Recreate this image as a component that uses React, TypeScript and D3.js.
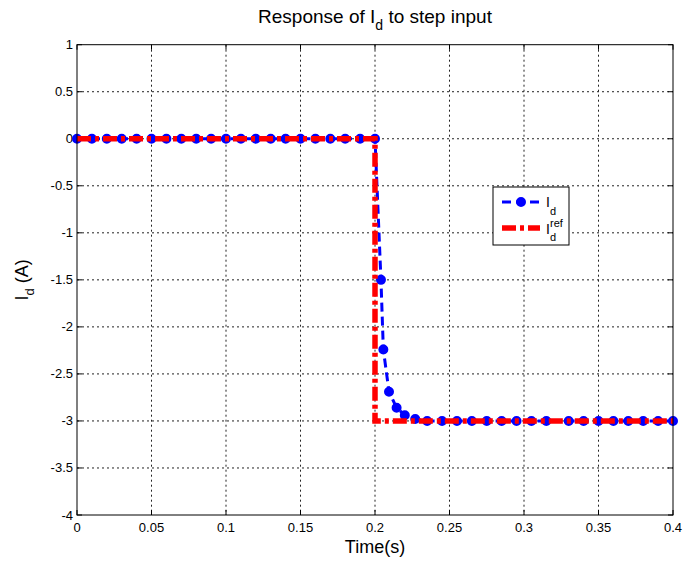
import React from "react";
import * as d3 from "d3";

const W = 698;
const H = 563;

const xTicks = [0, 0.05, 0.1, 0.15, 0.2, 0.25, 0.3, 0.35, 0.4];
const yTicks = [1, 0.5, 0, -0.5, -1, -1.5, -2, -2.5, -3, -3.5, -4];

// measured current I_d (blue, markers)
const idTime = [
  0, 0.01, 0.02, 0.03, 0.04, 0.05, 0.06, 0.07, 0.08, 0.09, 0.1, 0.11, 0.12, 0.13,
  0.14, 0.15, 0.16, 0.17, 0.18, 0.19, 0.2, 0.204, 0.2056, 0.2094, 0.2145, 0.22,
  0.227, 0.235, 0.245, 0.255, 0.265, 0.275, 0.285, 0.295, 0.305, 0.315, 0.33, 0.34,
  0.35, 0.36, 0.37, 0.38, 0.39, 0.4,
];
const idValue = [
  0, 0, 0, 0, 0, 0, 0, 0, 0, 0, 0, 0, 0, 0, 0, 0, 0, 0, 0, 0, 0, -1.5, -2.24, -2.69,
  -2.86, -2.94, -2.98, -3, -3, -3, -3, -3, -3, -3, -3, -3, -3, -3, -3, -3, -3, -3,
  -3, -3,
];

// reference I_d^ref (red, dash-dot)
const refTime = [0, 0.2, 0.2, 0.4];
const refValue = [0, 0, -3, -3];

const FONT = "Arial, 'Liberation Sans', sans-serif";

export default function App() {
  const left = 77, right = 673, top = 44.7, bottom = 515;
  const x = d3.scaleLinear().domain([0, 0.4]).range([left, right]);
  const y = d3.scaleLinear().domain([-4, 1]).range([bottom, top]);

  const line = d3
    .line<[number, number]>()
    .x((d) => x(d[0]))
    .y((d) => y(d[1]));

  const idPts: [number, number][] = idTime.map((t, i) => [t, idValue[i]]);
  const refPts: [number, number][] = refTime.map((t, i) => [t, refValue[i]]);

  const blue = "#0000ff";
  const red = "#ff0000";
  const blueDash = "9,5";
  const redDash = "14,4,4,4";

  const legX = 493, legY = 187, legW = 76, legH = 58;

  return (
    <svg
      width={W}
      height={H}
      style={{ position: "absolute", left: 0, top: 0, background: "#fff" }}
      fontFamily={FONT}
    >
      <rect x={0} y={0} width={W} height={H} fill="#fff" />
      <rect x={left} y={top} width={right - left} height={bottom - top} fill="#fff" />

      {/* grid */}
      {xTicks.slice(1, -1).map((t) => (
        <line
          key={"gx" + t}
          x1={x(t)}
          x2={x(t)}
          y1={top}
          y2={bottom}
          stroke="#222"
          strokeWidth={1}
          strokeDasharray="2,3"
        />
      ))}
      {yTicks.slice(1, -1).map((t) => (
        <line
          key={"gy" + t}
          x1={left}
          x2={right}
          y1={y(t)}
          y2={y(t)}
          stroke="#222"
          strokeWidth={1}
          strokeDasharray="2,3"
        />
      ))}

      {/* ticks */}
      {xTicks.map((t) => (
        <g key={"tx" + t}>
          <line x1={x(t)} x2={x(t)} y1={bottom} y2={bottom - 5} stroke="#000" />
          <line x1={x(t)} x2={x(t)} y1={top} y2={top + 5} stroke="#000" />
        </g>
      ))}
      {yTicks.map((t) => (
        <g key={"ty" + t}>
          <line x1={left} x2={left + 5} y1={y(t)} y2={y(t)} stroke="#000" />
          <line x1={right} x2={right - 5} y1={y(t)} y2={y(t)} stroke="#000" />
        </g>
      ))}

      {/* tick labels */}
      {xTicks.map((t) => (
        <text
          key={"lx" + t}
          x={x(t)}
          y={bottom + 17}
          textAnchor="middle"
          fontSize={13}
          fill="#000"
        >
          {String(t)}
        </text>
      ))}
      {yTicks.map((t) => (
        <text
          key={"ly" + t}
          x={left - 4}
          y={y(t) + 4.5}
          textAnchor="end"
          fontSize={13}
          fill="#000"
        >
          {String(t)}
        </text>
      ))}

      {/* I_d series */}
      <path
        d={line(idPts) || ""}
        fill="none"
        stroke={blue}
        strokeWidth={3}
        strokeDasharray={blueDash}
      />
      {idPts.map((p, i) => (
        <circle
          key={"m" + i}
          cx={x(p[0])}
          cy={y(p[1])}
          r={4}
          fill={blue}
          stroke={blue}
          strokeWidth={2}
        />
      ))}

      {/* I_d^ref series */}
      <path
        d={line(refPts) || ""}
        fill="none"
        stroke={red}
        strokeWidth={5.5}
        strokeDasharray={redDash}
      />

      {/* axes box */}
      <rect
        x={left}
        y={top}
        width={right - left}
        height={bottom - top}
        fill="none"
        stroke="#000"
        strokeWidth={1}
      />

      {/* legend */}
      <rect x={legX} y={legY} width={legW} height={legH} fill="#fff" stroke="#000" strokeWidth={1} />
      <line x1={502} x2={540} y1={202} y2={202} stroke={blue} strokeWidth={3} strokeDasharray={blueDash} />
      <circle cx={521} cy={202} r={4} fill={blue} stroke={blue} strokeWidth={2} />
      <line x1={502} x2={540} y1={228} y2={228} stroke={red} strokeWidth={5.5} strokeDasharray={redDash} />
      <text x={546} y={207} fontSize={14} fill="#000">
        I
      </text>
      <text x={550} y={215} fontSize={11} fill="#000">
        d
      </text>
      <text x={546} y={234} fontSize={14} fill="#000">
        I
      </text>
      <text x={550} y={241} fontSize={11} fill="#000">
        d
      </text>
      <text x={550} y={227} fontSize={11} fill="#000">
        ref
      </text>

      {/* title */}
      <text x={(left + right) / 2} y={23} textAnchor="middle" fontSize={19} fill="#000">
        <tspan>Response of I</tspan>
        <tspan fontSize={14} dy={7}>d</tspan>
        <tspan dy={-7}> to step input</tspan>
      </text>

      {/* x label */}
      <text x={(left + right) / 2} y={553} textAnchor="middle" fontSize={18} fill="#000">
        Time(s)
      </text>

      {/* y label */}
      <text
        transform={`translate(28, ${(top + bottom) / 2}) rotate(-90)`}
        textAnchor="middle"
        fontSize={18}
        fill="#000"
      >
        <tspan>I</tspan>
        <tspan fontSize={13} dy={6}>d</tspan>
        <tspan dy={-6}> (A)</tspan>
      </text>
    </svg>
  );
}
